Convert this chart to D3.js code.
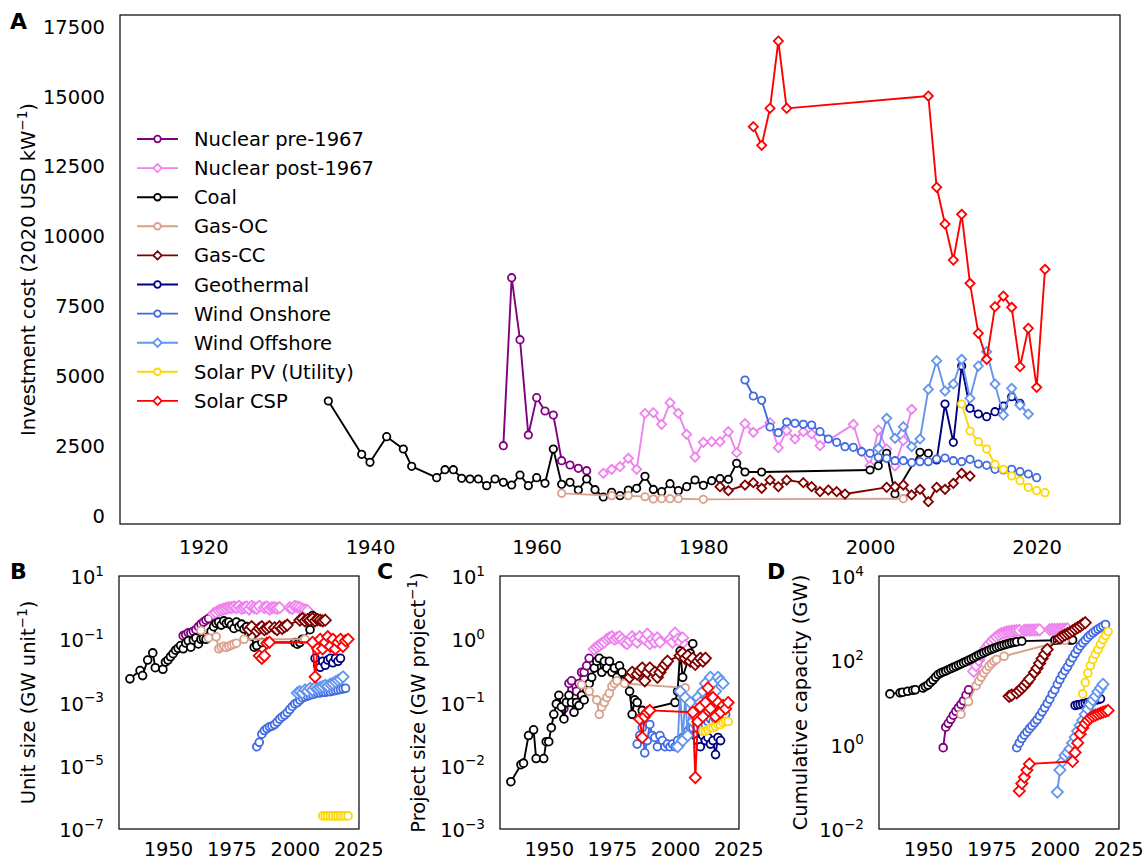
<!DOCTYPE html>
<html lang="en">
<head>
<meta charset="UTF-8" />
<title>Investment cost, unit size, project size and cumulative capacity</title>
<style>
  body { margin: 0; background: #fff; }
  svg { display: block; font-family: "DejaVu Sans", sans-serif; }
</style>
</head>
<body>
<svg width="1145" height="861"></svg>
<script src="https://d3js.org/d3.v7.min.js"></script>
<script>
// ---- years of each technology series ----
const nucPreYears = [1956,1957,1958,1959,1960,1961,1962,1963,1964,1965,1966];
const nucPostYears = [1968,1969,1970,1971,1972,1973,1974,1975,1976,1977,1978,1979,1980,1981,1982,1983,1984,1985,1986,1988,1989,1990,1991,1992,1993,1994,1998,1999,2000,2001,2002,2003,2004,2005];
const coalYears = [1935,1939,1940,1942,1944,1945,1948,1949,1950,1951,1952,1953,1954,1955,1956,1957,1958,1959,1960,1961,1962,1963,1964,1965,1966,1967,1968,1969,1970,1971,1972,1973,1974,1975,1976,1977,1978,1979,1980,1981,1982,1983,1984,1985,1987,2000,2001,2002,2003,2006,2007];
const gasOcYearsA = [1963,1969,1971,1973,1974,1975,1976,1977,1980,2004];
const gasOcYears = [1963,1966,1969,1970,1971,1972,1973,1974,1975,1976,1977,1980,2004];
const gasCcYears = [1982,1983,1985,1986,1987,1988,1989,1990,1992,1993,1994,1995,1996,1997,2002,2003,2004,2005,2006,2007,2008,2009,2010,2011,2012];
const geoYears = [2008,2009,2010,2011,2012,2013,2014,2015,2016,2017,2018];
const windOnYears = [1985,1986,1987,1988,1989,1990,1991,1992,1993,1994,1995,1996,1997,1998,1999,2000,2001,2002,2003,2004,2005,2006,2007,2008,2009,2010,2011,2012,2013,2014,2015,2016,2017,2018,2019,2020];
const windOffYears = [2001,2002,2003,2004,2005,2006,2007,2008,2009,2010,2011,2012,2013,2014,2015,2016,2017,2018,2019];
const pvYears = [2011,2012,2013,2014,2015,2016,2017,2018,2019,2020,2021];
const cspYears = [1986,1987,1988,1989,1990,2007,2008,2009,2010,2011,2012,2013,2014,2015,2016,2017,2018,2019,2020,2021];

// ---- A: investment cost (2020 USD/kW) ----
const nucPreCost = [2516,8528,6310,2900,4235,3758,3614,1980,1825,1706,1622];
const nucPostCost = [1527,1670,1765,2063,1670,3670,3698,3280,4056,3674,2922,2111,2636,2660,2660,3018,2266,3304,2994,3340,2445,3054,2756,3018,2935,2517,3280,2300,1800,3077,2400,1790,2700,3817];
const coalCost = [4115,2207,1920,2839,2398,1777,1372,1658,1658,1348,1324,1324,1086,1324,1205,1109,1467,1086,1372,1169,2398,1133,1205,930,1324,942,680,847,728,930,990,1420,950,871,1157,907,1050,1288,1097,1264,1336,1312,1885,1575,1575,1646,1801,2242,787,2278,2242];
const gasOcCost = [811,728,728,690,610,620,620,620,596,620];
const gasCcCost = [1050,907,1109,1193,990,1288,1050,1288,1193,1050,871,930,871,787,1026,1050,1109,752,954,513,1026,954,1169,1527,1431];
const geoCost = [2004,4008,2636,5368,3853,3650,3555,3733,3936,4270,4030];
const windOnCost = [4867,4294,4139,3185,2982,3364,3316,3280,3257,3018,2756,2636,2481,2457,2302,2242,2099,2063,1980,1980,1910,1945,1945,2040,2076,1980,1945,2028,1861,1813,1670,1646,1670,1587,1503,1372];
const windOffCost = [2421,3495,2779,3197,2481,2756,4533,5559,4473,4724,5606,4211,5368,5881,4724,3614,4568,3972,3650];
const pvCost = [4008,3042,2660,2398,1849,1670,1431,1264,1026,907,835];
const cspCost = [13932,13265,14589,16998,14589,15030,11762,10449,9161,10795,8326,6537,5606,7491,7873,7467,5344,6716,4604,8827];

// ---- B: unit size (GW per unit) ----
const nucPreUnit = [0.13,0.14,0.16,0.16,0.18,0.2,0.25,0.3,0.35,0.4,0.45];
const nucPostUnit = [0.65,0.7,0.8,0.85,0.9,0.95,1.0,1.0,1.05,1.0,1.1,0.95,1.0,1.05,0.9,1.1,1.0,0.95,1.1,1.0,1.05,0.9,1.0,1.0,0.95,1.0,1.0,0.95,1.1,1.05,1.0,0.9,0.85,0.8];
const coalUnit = [0.0056,0.0102,0.0071,0.022,0.037,0.0126,0.0112,0.019,0.022,0.028,0.035,0.045,0.052,0.063,0.05,0.076,0.089,0.056,0.095,0.11,0.071,0.1,0.105,0.1,0.12,0.18,0.25,0.32,0.35,0.28,0.38,0.32,0.35,0.28,0.22,0.35,0.25,0.3,0.21,0.25,0.14,0.126,0.056,0.063,0.079,0.079,0.07,0.079,0.1,0.2,0.56];
const gasOcUnit = [0.19,0.11,0.12,0.05,0.055,0.06,0.055,0.06,0.065,0.07,0.075,0.1,0.1];
const gasCcUnit = [0.2,0.25,0.18,0.22,0.25,0.2,0.22,0.25,0.23,0.2,0.25,0.22,0.25,0.28,0.4,0.45,0.38,0.42,0.4,0.45,0.38,0.42,0.4,0.38,0.4];
const geoUnit = [0.025,0.015,0.013,0.02,0.015,0.022,0.025,0.018,0.025,0.02,0.025];
const windOnUnit = [4e-5,5.5e-5,1.0e-4,1.3e-4,1.5e-4,1.7e-4,1.8e-4,2.0e-4,2.4e-4,3.0e-4,3.5e-4,4.0e-4,4.8e-4,6.0e-4,7.5e-4,9e-4,1.0e-3,1.2e-3,1.4e-3,1.5e-3,1.6e-3,1.7e-3,1.8e-3,1.9e-3,2.0e-3,2.0e-3,2.1e-3,2.1e-3,2.2e-3,2.2e-3,2.3e-3,2.4e-3,2.5e-3,2.6e-3,2.7e-3,2.8e-3];
const windOffUnit = [2e-3,2.2e-3,2.0e-3,2.5e-3,2.3e-3,2.8e-3,2.5e-3,3.0e-3,2.8e-3,3.0e-3,3.2e-3,3.5e-3,3.3e-3,3.8e-3,4.0e-3,4.5e-3,5.0e-3,5.5e-3,6.5e-3];
const pvUnit = [2.6e-7,2.6e-7,2.6e-7,2.6e-7,2.6e-7,2.6e-7,2.6e-7,2.6e-7,2.6e-7,2.6e-7,2.6e-7];
const cspUnit = [0.03,0.025,0.03,0.075,0.08,0.08,0.0065,0.05,0.1,0.05,0.08,0.12,0.06,0.1,0.05,0.08,0.1,0.06,0.09,0.1];

// ---- C: project size (GW per project) ----
const nucPreProject = [0.08,0.1,0.2,0.22,0.12,0.15,0.2,0.3,0.3,0.38,0.5];
const nucPostProject = [0.7,0.75,0.8,0.85,0.9,1.0,1.05,1.1,1.0,1.05,1.1,1.0,0.9,0.85,0.95,1.1,1.0,0.9,1.1,1.0,1.2,0.85,1.0,0.9,1.05,0.9,1.0,0.9,1.25,1.0,0.9,1.05,0.8,0.7];
const coalProject = [0.0056,0.0104,0.011,0.03,0.037,0.013,0.013,0.024,0.024,0.04,0.065,0.095,0.13,0.085,0.055,0.1,0.13,0.1,0.07,0.1,0.09,0.13,0.11,0.16,0.2,0.25,0.35,0.45,0.5,0.3,0.45,0.35,0.45,0.3,0.35,0.25,0.38,0.3,0.22,0.22,0.15,0.065,0.11,0.1,0.075,0.1,0.15,0.65,0.25,0.6,0.85];
const gasOcProject = [0.19,0.15,0.11,0.065,0.085,0.1,0.12,0.14,0.18,0.2,0.22,0.2,0.17];
const gasCcProject = [0.25,0.3,0.28,0.32,0.35,0.22,0.3,0.35,0.3,0.25,0.3,0.35,0.4,0.45,0.55,0.6,0.5,0.55,0.45,0.5,0.4,0.45,0.5,0.45,0.5];
const geoProject = [0.03,0.025,0.02,0.03,0.025,0.028,0.022,0.025,0.015,0.028,0.025];
const windOnProject = [0.022,0.03,0.04,0.016,0.025,0.045,0.03,0.028,0.02,0.03,0.025,0.02,0.022,0.02,0.022,0.02,0.025,0.022,0.028,0.03,0.035,0.04,0.04,0.045,0.04,0.045,0.05,0.045,0.05,0.055,0.05,0.055,0.06,0.055,0.06,0.065];
const windOffProject = [0.02,0.15,0.025,0.12,0.03,0.1,0.05,0.06,0.12,0.1,0.15,0.2,0.12,0.25,0.2,0.15,0.25,0.22,0.2];
const pvProject = [0.035,0.035,0.037,0.04,0.04,0.042,0.045,0.045,0.048,0.05,0.05];
const cspProject = [0.055,0.028,0.06,0.07,0.075,0.07,0.0065,0.05,0.085,0.06,0.1,0.17,0.08,0.12,0.06,0.1,0.07,0.09,0.08,0.1];

// ---- D: cumulative capacity (GW) ----
const nucPreCum = [0.85,2.6,3.2,4.0,5.0,6.2,7.5,9,11,15,20];
const nucPostCum = [55,75,100,130,165,200,240,280,320,360,400,430,450,470,480,490,500,505,510,515,520,520,525,525,530,530,535,540,540,545,545,550,550,555];
const coalCum = [16,17,17.5,18.5,19.5,20,22,24,26,30,34,40,46,50,53,56,60,64,68,72,77,82,88,93,100,107,115,124,133,142,152,162,172,182,192,202,212,222,232,242,252,260,268,275,285,300,305,310,312,300,305];
const gasOcCum = [5.3,10.5,25,32,40,50,60,72,83,95,105,125,300];
const gasCcCum = [14,15,17,19,22,25,30,36,52,65,85,110,140,180,340,370,400,430,460,500,550,600,650,720,780];
const geoCum = [8.5,8.8,9,9.3,9.6,10,10.4,10.8,11.2,11.7,12.2];
const windOnCum = [0.85,1.1,1.4,1.7,2.0,2.4,2.8,3.3,3.9,4.8,6,7.5,9.5,12,16,20,27,35,45,57,70,90,115,145,180,220,260,300,350,400,450,500,550,600,650,710];
const windOffCum = [0.075,0.25,0.4,0.55,0.65,0.8,1.1,1.5,2.1,2.9,3.8,5.2,7,9,11.5,14,18,22,27];
const pvCum = [16,30,50,75,105,140,180,240,310,390,480];
const cspCum = [0.08,0.12,0.17,0.25,0.35,0.4,0.65,1.1,1.8,2.5,3.2,3.8,4.3,4.7,5.0,5.3,5.6,5.9,6.2,6.5];

// ---- tick labels ----
const yearTicksA = [1920,1940,1960,1980,2000,2020];
const costTicks = [0,2500,5000,7500,10000,12500,15000,17500];
const yearTicksSmall = [1950,1975,2000,2025];
const unitExps = [-7,-5,-3,-1,1];
const projectExps = [-3,-2,-1,0,1];
const cumExps = [-2,0,2,4];

// technology table (drawing order = legend order)
const techs = [
  { name: "Nuclear pre-1967", color: "#800080", marker: "circle", years: nucPreYears, costYears: nucPreYears,
    cost: nucPreCost, unit: nucPreUnit, project: nucPreProject, cum: nucPreCum },
  { name: "Nuclear post-1967", color: "#ee82ee", marker: "diamond", years: nucPostYears, costYears: nucPostYears,
    cost: nucPostCost, unit: nucPostUnit, project: nucPostProject, cum: nucPostCum },
  { name: "Coal", color: "#000000", marker: "circle", years: coalYears, costYears: coalYears,
    cost: coalCost, unit: coalUnit, project: coalProject, cum: coalCum },
  { name: "Gas-OC", color: "#d9a08b", marker: "circle", years: gasOcYears, costYears: gasOcYearsA,
    cost: gasOcCost, unit: gasOcUnit, project: gasOcProject, cum: gasOcCum },
  { name: "Gas-CC", color: "#800000", marker: "diamond", years: gasCcYears, costYears: gasCcYears,
    cost: gasCcCost, unit: gasCcUnit, project: gasCcProject, cum: gasCcCum },
  { name: "Geothermal", color: "#000080", marker: "circle", years: geoYears, costYears: geoYears,
    cost: geoCost, unit: geoUnit, project: geoProject, cum: geoCum },
  { name: "Wind Onshore", color: "#4169e1", marker: "circle", years: windOnYears, costYears: windOnYears,
    cost: windOnCost, unit: windOnUnit, project: windOnProject, cum: windOnCum },
  { name: "Wind Offshore", color: "#6495ed", marker: "diamond", years: windOffYears, costYears: windOffYears,
    cost: windOffCost, unit: windOffUnit, project: windOffProject, cum: windOffCum },
  { name: "Solar PV (Utility)", color: "#ffd700", marker: "circle", years: pvYears, costYears: pvYears,
    cost: pvCost, unit: pvUnit, project: pvProject, cum: pvCum },
  { name: "Solar CSP", color: "#ff0000", marker: "diamond", years: cspYears, costYears: cspYears,
    cost: cspCost, unit: cspUnit, project: cspProject, cum: cspCum }
];

const FS = 19.5;
const SUP = 13.6;
const svg = d3.select("svg");

const panels = [
  { key: "cost", letter: "A", x0: 120, x1: 1120, y0: 15, y1: 524, xDomain: [1910, 2030], yDomain: [-286, 17929],
    log: false, xTicks: yearTicksA, yTicks: costTicks, r: 3.7, d: 4.6, xPad: 15.7,
    label: ["Investment cost (2020 USD kW", "\u22121", ")"], labelX: 35, letterX: 10, letterY: 29 },
  { key: "unit", letter: "B", x0: 119, x1: 359, y0: 576, y1: 829, xDomain: [1930.7, 2025.3], yDomain: [1e-7, 1e1],
    log: true, xTicks: yearTicksSmall, yExps: unitExps, r: 3.9, d: 5.6, xPad: 13.5,
    label: ["Unit size (GW unit", "\u22121", ")"], labelX: 35, letterX: 10, letterY: 579 },
  { key: "project", letter: "C", x0: 500, x1: 739, y0: 576, y1: 829, xDomain: [1930.7, 2025.3], yDomain: [1e-3, 1e1],
    log: true, xTicks: yearTicksSmall, yExps: projectExps, r: 3.9, d: 5.6, xPad: 13.5,
    label: ["Project size (GW project", "\u22121", ")"], labelX: 425, letterX: 377, letterY: 579 },
  { key: "cum", letter: "D", x0: 879, x1: 1119, y0: 576, y1: 829, xDomain: [1930.7, 2025.3], yDomain: [1e-2, 1e4],
    log: true, xTicks: yearTicksSmall, yExps: cumExps, r: 3.9, d: 5.6, xPad: 13.5,
    label: ["Cumulative capacity (GW)"], labelX: 807, letterX: 767, letterY: 579 }
];

function diamondPath(cx, cy, d) {
  return `M${cx},${cy - d}L${cx + d},${cy}L${cx},${cy + d}L${cx - d},${cy}Z`;
}

function drawMarkers(g, pts, t, r, d) {
  if (t.marker === "circle") {
    g.selectAll(null).data(pts).join("circle")
      .attr("cx", p => p[0]).attr("cy", p => p[1]).attr("r", r)
      .attr("fill", "#fff").attr("stroke", t.color).attr("stroke-width", 1.8);
  } else {
    g.selectAll(null).data(pts).join("path")
      .attr("d", p => diamondPath(p[0], p[1], d))
      .attr("fill", "#fff").attr("stroke", t.color).attr("stroke-width", 1.8);
  }
}

panels.forEach(p => {
  const x = d3.scaleLinear().domain(p.xDomain).range([p.x0, p.x1]);
  const y = (p.log ? d3.scaleLog() : d3.scaleLinear()).domain(p.yDomain).range([p.y1, p.y0]);
  const g = svg.append("g");

  techs.forEach(t => {
    const yrs = p.key === "cost" ? t.costYears : t.years;
    const vals = t[p.key];
    const pts = yrs.map((yr, i) => [x(yr), y(vals[i])]);
    const sg = g.append("g");
    sg.append("path").datum(pts)
      .attr("d", d3.line())
      .attr("fill", "none").attr("stroke", t.color)
      .attr("stroke-width", 1.9).attr("stroke-linejoin", "round");
    drawMarkers(sg, pts, t, p.r, p.d);
  });

  // frame
  svg.append("rect")
    .attr("x", p.x0).attr("y", p.y0)
    .attr("width", p.x1 - p.x0).attr("height", p.y1 - p.y0)
    .attr("fill", "none").attr("stroke", "#000").attr("stroke-width", 1.2);

  // x axis labels
  svg.append("g")
    .attr("transform", `translate(0,${p.y1})`)
    .call(d3.axisBottom(x).tickValues(p.xTicks).tickFormat(d3.format("d")).tickSize(0).tickPadding(p.xPad))
    .call(a => a.select(".domain").remove())
    .attr("font-family", "DejaVu Sans, sans-serif").attr("font-size", FS);

  // y axis labels
  if (!p.log) {
    svg.append("g")
      .attr("transform", `translate(${p.x0},0)`)
      .call(d3.axisLeft(y).tickValues(p.yTicks).tickFormat(d3.format("d")).tickSize(0).tickPadding(15))
      .call(a => a.select(".domain").remove())
      .attr("font-family", "DejaVu Sans, sans-serif").attr("font-size", FS);
  } else {
    p.yExps.forEach(e => {
      const tx = svg.append("text")
        .attr("x", p.x0 - 15).attr("y", y(Math.pow(10, e)) + 8)
        .attr("text-anchor", "end").attr("font-size", FS);
      tx.append("tspan").text("10");
      tx.append("tspan").attr("dy", -8.5).attr("font-size", SUP)
        .text(e < 0 ? "\u2212" + (-e) : String(e));
    });
  }

  // y title
  const yl = svg.append("text")
    .attr("transform", `translate(${p.labelX},${(p.y0 + p.y1) / 2}) rotate(-90)`)
    .attr("text-anchor", "middle").attr("font-size", FS);
  yl.append("tspan").text(p.label[0]);
  if (p.label.length > 1) {
    yl.append("tspan").attr("dy", -8.5).attr("font-size", SUP).text(p.label[1]);
    yl.append("tspan").attr("dy", 8.5).text(p.label[2]);
  }

  // panel letter
  svg.append("text")
    .attr("x", p.letterX).attr("y", p.letterY)
    .attr("font-size", 22).attr("font-weight", "bold")
    .text(p.letter);
});

// legend for panel A
const legend = svg.append("g");
techs.forEach((t, i) => {
  const ly = 139 + i * 29.1;
  legend.append("line")
    .attr("x1", 137).attr("x2", 178).attr("y1", ly).attr("y2", ly)
    .attr("stroke", t.color).attr("stroke-width", 1.9);
  drawMarkers(legend.append("g"), [[157.5, ly]], t, 3.3, 4.2);
  legend.append("text")
    .attr("x", 194).attr("y", ly).attr("dy", "0.36em")
    .attr("font-size", FS)
    .text(t.name);
});
</script>
</body>
</html>
